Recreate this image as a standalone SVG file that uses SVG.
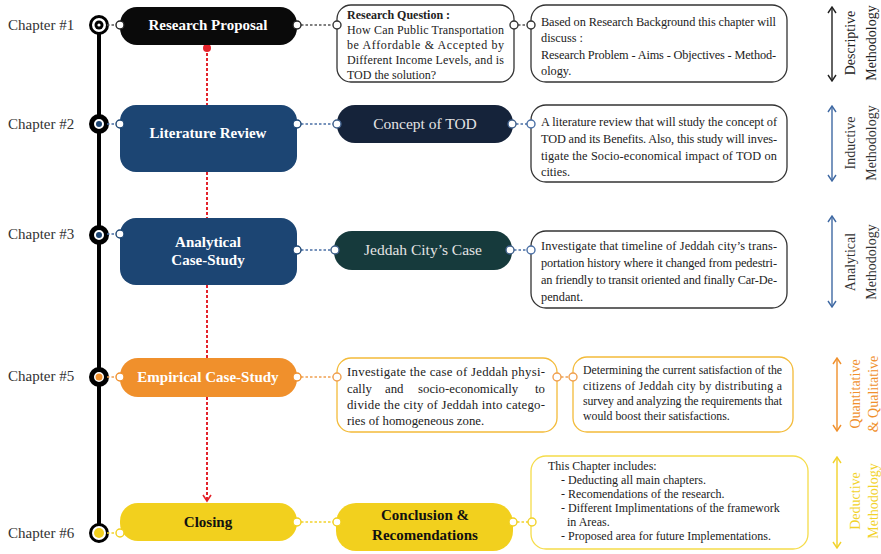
<svg xmlns="http://www.w3.org/2000/svg" width="881" height="554" viewBox="0 0 881 554">
<defs>
<style>
.ch{font-family:"Liberation Serif",serif;font-size:15px;fill:#333}
.nt{font-family:"Liberation Serif",serif;font-size:15px;font-weight:bold;text-anchor:middle}
.nr{font-family:"Liberation Serif",serif;font-size:15.5px;text-anchor:middle;fill:#e4e4e4}
.bx{font-family:"Liberation Serif",serif;font-size:12.3px;fill:#222}
.ba{font-family:"Liberation Serif",serif;font-size:12.8px;fill:#222}
.bq{font-family:"Liberation Serif",serif;font-size:12px;fill:#222}
.bs{font-family:"Liberation Serif",serif;font-size:11.8px;fill:#222}
.bc{font-family:"Liberation Serif",serif;font-size:12px;fill:#222}
.ml{font-family:"Liberation Serif",serif;font-size:14px;text-anchor:middle}
.tb{fill:#fff;stroke-width:1.3}
.port{fill:#fff;stroke-width:1.4}
.dl{fill:none;stroke-width:1.6;stroke-dasharray:2.5 2}
.red{fill:none;stroke:#e3232b;stroke-width:2;stroke-dasharray:3 2}
.ar{fill:none;stroke-width:1.4}
</style>
<marker id="mk0" viewBox="0 0 8 10" refX="7" refY="5" markerWidth="8" markerHeight="10" markerUnits="userSpaceOnUse" orient="auto-start-reverse"><path d="M1,1 L7,5 L1,9" fill="none" stroke="#222" stroke-width="1.4"/></marker>
<marker id="mk1" viewBox="0 0 8 10" refX="7" refY="5" markerWidth="8" markerHeight="10" markerUnits="userSpaceOnUse" orient="auto-start-reverse"><path d="M1,1 L7,5 L1,9" fill="none" stroke="#3f69a3" stroke-width="1.4"/></marker>
<marker id="mk2" viewBox="0 0 8 10" refX="7" refY="5" markerWidth="8" markerHeight="10" markerUnits="userSpaceOnUse" orient="auto-start-reverse"><path d="M1,1 L7,5 L1,9" fill="none" stroke="#f0902c" stroke-width="1.4"/></marker>
<marker id="mk3" viewBox="0 0 8 10" refX="7" refY="5" markerWidth="8" markerHeight="10" markerUnits="userSpaceOnUse" orient="auto-start-reverse"><path d="M1,1 L7,5 L1,9" fill="none" stroke="#f2d22a" stroke-width="1.4"/></marker>
<marker id="mkr" viewBox="0 0 8 10" refX="7" refY="5" markerWidth="9" markerHeight="10" markerUnits="userSpaceOnUse" orient="auto"><path d="M1,1 L7,5 L1,9" fill="none" stroke="#e3232b" stroke-width="1.6"/></marker>
</defs>
<rect width="881" height="554" fill="#fff"/>

<!-- timeline -->
<g id="timeline">
<line x1="99" y1="25" x2="99" y2="525" stroke="#000" stroke-width="4"/>
<text class="ch" x="8" y="30">Chapter #1</text>
<text class="ch" x="8" y="129">Chapter #2</text>
<text class="ch" x="8" y="239">Chapter #3</text>
<text class="ch" x="8" y="381">Chapter #5</text>
<text class="ch" x="8" y="538">Chapter #6</text>
<circle cx="99" cy="25" r="8.5" fill="#fff" stroke="#000" stroke-width="3"/>
<circle cx="99" cy="25" r="4.5" fill="#000"/>
<circle cx="99" cy="25" r="1.6" fill="#fff"/>
<circle cx="99" cy="124" r="7.5" fill="#fff" stroke="#000" stroke-width="5"/>
<circle cx="99" cy="124" r="3" fill="#1c4573"/>
<circle cx="99" cy="235" r="7.5" fill="#fff" stroke="#000" stroke-width="5"/>
<circle cx="99" cy="235" r="3" fill="#1c4573"/>
<circle cx="99" cy="377" r="7.5" fill="#fff" stroke="#000" stroke-width="5"/>
<circle cx="99" cy="377" r="3.5" fill="#f0902c"/>
<circle cx="99" cy="533" r="8.5" fill="#fff" stroke="#000" stroke-width="3"/>
<circle cx="99" cy="533" r="5" fill="#f2d01e"/>
</g>

<!-- connectors -->
<g id="connectors">
<line class="dl" stroke="#555" x1="107" y1="25" x2="117" y2="25"/>
<line class="dl" stroke="#4a6fa5" x1="107" y1="124" x2="117" y2="124"/>
<line class="dl" stroke="#4a6fa5" x1="107" y1="234" x2="117" y2="234"/>
<line class="dl" stroke="#f0a050" x1="107" y1="377" x2="117" y2="377"/>
<line class="dl" stroke="#f2d22a" x1="107" y1="533" x2="117" y2="533"/>

<line class="dl" stroke="#555" x1="301" y1="25" x2="332" y2="25"/>
<line class="dl" stroke="#555" x1="518" y1="25" x2="527" y2="25"/>
<line class="dl" stroke="#4a6fa5" x1="301" y1="124" x2="333" y2="124"/>
<line class="dl" stroke="#4a6fa5" x1="516" y1="124" x2="527" y2="124"/>
<line class="dl" stroke="#4a6fa5" x1="301" y1="250" x2="331" y2="250"/>
<line class="dl" stroke="#4a6fa5" x1="514" y1="250" x2="527" y2="250"/>
<line class="dl" stroke="#f0a050" x1="301" y1="377" x2="333" y2="377"/>
<line class="dl" stroke="#f0a050" x1="561" y1="377" x2="569" y2="377"/>
<line class="dl" stroke="#f2d22a" x1="301" y1="522" x2="333" y2="522"/>
<line class="dl" stroke="#f2d22a" x1="517" y1="522" x2="528" y2="522"/>

<line class="red" x1="207" y1="48" x2="207" y2="105"/>
<circle cx="207" cy="48" r="4" fill="#e3232b"/>
<line class="red" x1="207" y1="172" x2="207" y2="218"/>
<line class="red" x1="207" y1="285" x2="207" y2="358"/>
<line class="red" x1="207" y1="397" x2="207" y2="501" marker-end="url(#mkr)"/>

<line class="ar" stroke="#222" x1="832" y1="7" x2="832" y2="81" marker-start="url(#mk0)" marker-end="url(#mk0)"/>
<line class="ar" stroke="#3f69a3" x1="832" y1="106" x2="832" y2="181" marker-start="url(#mk1)" marker-end="url(#mk1)"/>
<line class="ar" stroke="#3f69a3" x1="832" y1="216" x2="832" y2="307" marker-start="url(#mk1)" marker-end="url(#mk1)"/>
<line class="ar" stroke="#f0902c" x1="837" y1="358" x2="837" y2="431" marker-start="url(#mk2)" marker-end="url(#mk2)"/>
<line class="ar" stroke="#f2d22a" x1="837" y1="457" x2="837" y2="548" marker-start="url(#mk3)" marker-end="url(#mk3)"/>
</g>

<!-- methodology labels -->
<g id="methodology">
<text class="ml" fill="#222" transform="translate(855,43) rotate(-90)">Descriptive</text>
<text class="ml" fill="#222" transform="translate(876,43) rotate(-90)">Methodology</text>
<text class="ml" fill="#333" transform="translate(855,143) rotate(-90)">Inductive</text>
<text class="ml" fill="#333" transform="translate(876,143) rotate(-90)">Methodology</text>
<text class="ml" fill="#333" transform="translate(855,262) rotate(-90)">Analytical</text>
<text class="ml" fill="#333" transform="translate(876,262) rotate(-90)">Methodology</text>
<text class="ml" fill="#f0902c" transform="translate(860,394) rotate(-90)">Quantitative</text>
<text class="ml" fill="#f0902c" transform="translate(878,394) rotate(-90)">&amp; Qualitative</text>
<text class="ml" fill="#f2d22a" transform="translate(860,501) rotate(-90)">Deductive</text>
<text class="ml" fill="#f2d22a" transform="translate(878,501) rotate(-90)">Methodology</text>
</g>

<!-- main nodes -->
<g id="research-proposal">
<rect x="120" y="7" width="177" height="38" rx="17" fill="#0a0a0a"/>
<text class="nt" x="208" y="30" fill="#fff">Research Proposal</text>
<circle class="port" stroke="#222" cx="120" cy="25" r="4"/>
<circle class="port" stroke="#222" cx="297" cy="25" r="4"/>
</g>
<g id="literature-review">
<rect x="120" y="105" width="177" height="67" rx="16" fill="#1c4573"/>
<text class="nt" x="208" y="138" fill="#fff">Literature Review</text>
<circle class="port" stroke="#1c4573" cx="120" cy="124" r="4"/>
<circle class="port" stroke="#1c4573" cx="297" cy="124" r="4"/>
</g>
<g id="analytical-case-study">
<rect x="120" y="218" width="177" height="67" rx="16" fill="#1c4573"/>
<text class="nt" x="208" y="247" fill="#fff">Analytical</text>
<text class="nt" x="208" y="265" fill="#fff">Case-Study</text>
<circle class="port" stroke="#1c4573" cx="120" cy="234" r="4"/>
<circle class="port" stroke="#1c4573" cx="297" cy="250" r="4"/>
</g>
<g id="empirical-case-study">
<rect x="120" y="358" width="177" height="39" rx="18" fill="#f0902c"/>
<text class="nt" x="208" y="382" fill="#fff" font-size="14.5">Empirical Case-Study</text>
<circle class="port" stroke="#f0902c" cx="120" cy="377" r="4"/>
<circle class="port" stroke="#f0902c" cx="297" cy="377" r="4"/>
</g>
<g id="closing">
<rect x="120" y="503" width="177" height="38" rx="18" fill="#f2d01e"/>
<text class="nt" x="208" y="527" fill="#111">Closing</text>
<circle class="port" stroke="#f2d01e" cx="120" cy="533" r="4"/>
<circle class="port" stroke="#f2d01e" cx="297" cy="522" r="4"/>
</g>

<!-- second column -->
<g id="research-question">
<rect class="tb" stroke="#333" x="337" y="5" width="177" height="77" rx="14"/>
<text class="bq" x="347" y="19" font-weight="bold" font-size="12.5">Research Question :</text>
<text class="bq" x="347" y="34" textLength="157" lengthAdjust="spacing">How Can Public Transportation</text>
<text class="bq" x="347" y="49" textLength="157" lengthAdjust="spacing">be Affordable &amp; Accepted by</text>
<text class="bq" x="347" y="64" textLength="157" lengthAdjust="spacing">Different Income Levels, and is</text>
<text class="bq" x="347" y="79">TOD the solution?</text>
<circle class="port" stroke="#333" cx="337" cy="25" r="4"/>
<circle class="port" stroke="#333" cx="514" cy="25" r="4"/>
</g>
<g id="concept-of-tod">
<rect x="337" y="105" width="176" height="38" rx="18" fill="#15233a"/>
<text class="nr" x="425" y="129">Concept of TOD</text>
<circle class="port" stroke="#3f5f8a" cx="337" cy="124" r="4"/>
<circle class="port" stroke="#3f5f8a" cx="512" cy="124" r="4"/>
</g>
<g id="jeddah-city-case">
<rect x="334" y="231" width="178" height="39" rx="18" fill="#163a3c"/>
<text class="nr" x="423" y="255">Jeddah City’s Case</text>
<circle class="port" stroke="#3f5f8a" cx="335" cy="250" r="4"/>
<circle class="port" stroke="#3f5f8a" cx="510" cy="250" r="4"/>
</g>
<g id="empirical-detail-a">
<rect class="tb" stroke="#f3bb3a" x="337" y="358" width="220" height="74" rx="14"/>
<text class="ba" x="347" y="376" textLength="198" lengthAdjust="spacing">Investigate the case of Jeddah physi-</text>
<text class="ba" y="393"><tspan x="347">cally</tspan><tspan x="385">and</tspan><tspan x="418">socio-economically</tspan><tspan x="545" text-anchor="end">to</tspan></text>
<text class="ba" x="347" y="409" textLength="198" lengthAdjust="spacing">divide the city of Jeddah into catego-</text>
<text class="ba" x="347" y="425">ries of  homogeneous zone.</text>
<circle class="port" stroke="#f0a050" cx="337" cy="377" r="4"/>
<circle class="port" stroke="#f0a050" cx="557" cy="377" r="4"/>
</g>
<g id="conclusion">
<rect x="336" y="503" width="177" height="48" rx="20" fill="#f2d01e"/>
<text class="nt" x="425" y="520" fill="#111">Conclusion &amp;</text>
<text class="nt" x="425" y="540" fill="#111">Recomendations</text>
<circle class="port" stroke="#f2d01e" cx="337" cy="522" r="4"/>
<circle class="port" stroke="#f2d01e" cx="513" cy="522" r="4"/>
</g>

<!-- third column -->
<g id="desc-1">
<rect class="tb" stroke="#333" x="531" y="5" width="256" height="77" rx="15"/>
<text class="bx" x="541" y="26" textLength="235" lengthAdjust="spacing">Based on Research Background this chapter will</text>
<text class="bx" x="541" y="42">discuss :</text>
<text class="bx" x="541" y="59" textLength="235" lengthAdjust="spacing">Research Problem - Aims - Objectives - Method-</text>
<text class="bx" x="541" y="75">ology.</text>
<circle class="port" stroke="#333" cx="531" cy="25" r="4"/>
</g>
<g id="desc-2">
<rect class="tb" stroke="#333" x="531" y="105" width="256" height="77" rx="15"/>
<text class="bx" x="541" y="126" textLength="236" lengthAdjust="spacing">A literature review that will study the concept of</text>
<text class="bx" x="541" y="143" textLength="236" lengthAdjust="spacing">TOD and its Benefits. Also, this study will inves-</text>
<text class="bx" x="541" y="160" textLength="236" lengthAdjust="spacing">tigate the Socio-economical impact of TOD on</text>
<text class="bx" x="541" y="176">cities.</text>
<circle class="port" stroke="#4a6fa5" cx="531" cy="124" r="4"/>
</g>
<g id="desc-3">
<rect class="tb" stroke="#333" x="531" y="231" width="256" height="77" rx="15"/>
<text class="bx" x="541" y="250" textLength="236" lengthAdjust="spacing">Investigate that timeline of Jeddah city’s trans-</text>
<text class="bx" x="541" y="267" textLength="236" lengthAdjust="spacing">portation history where it changed from pedestri-</text>
<text class="bx" x="541" y="284" textLength="236" lengthAdjust="spacing">an friendly to transit oriented and finally Car-De-</text>
<text class="bx" x="541" y="301">pendant.</text>
<circle class="port" stroke="#4a6fa5" cx="531" cy="250" r="4"/>
</g>
<g id="empirical-detail-b">
<rect class="tb" stroke="#f3bb3a" x="573" y="357" width="220" height="75" rx="14"/>
<text class="bs" x="583" y="374" textLength="199" lengthAdjust="spacing">Determining the current satisfaction of the</text>
<text class="bs" x="583" y="390" textLength="199" lengthAdjust="spacing">citizens of Jeddah city by distributing a</text>
<text class="bs" x="583" y="405" textLength="199" lengthAdjust="spacing">survey and analyzing the requirements that</text>
<text class="bs" x="583" y="420">would boost their satisfactions.</text>
<circle class="port" stroke="#f0a050" cx="573" cy="377" r="4"/>
</g>
<g id="closing-detail">
<rect class="tb" stroke="#f5dc4a" x="531" y="456" width="277" height="93" rx="15"/>
<text class="bc" x="548" y="470">This Chapter includes:</text>
<text class="bc" x="561" y="484">- Deducting all main chapters.</text>
<text class="bc" x="561" y="498">- Recomendations of the research.</text>
<text class="bc" x="561" y="512">- Different Implimentations of the framework</text>
<text class="bc" x="567" y="526">in Areas.</text>
<text class="bc" x="561" y="540">- Proposed area for future Implementations.</text>
<circle class="port" stroke="#f2d22a" cx="532" cy="522" r="4"/>
</g>
</svg>
